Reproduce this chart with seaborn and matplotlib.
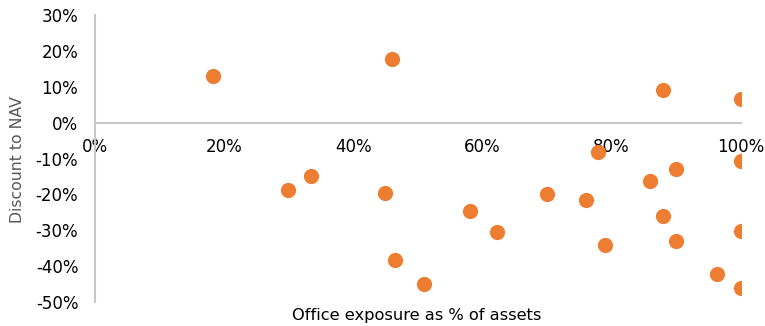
import pandas as pd
import seaborn as sns
import matplotlib.pyplot as plt
from matplotlib.ticker import FuncFormatter

# office exposure (% of assets) vs discount to NAV (%)
office_exposure = [18.3, 46.0, 88.0, 100.0, 29.9, 33.4, 44.9, 58.1, 62.3, 46.4, 51.0,
                   78.0, 100.0, 90.0, 86.0, 70.0, 76.1, 88.0, 100.0, 79.0, 90.0, 96.4, 100.0]
discount_nav = [12.9, 17.8, 9.1, 6.6, -18.9, -15.0, -19.6, -24.7, -30.5, -38.4, -45.1,
                -8.2, -10.8, -12.9, -16.2, -19.9, -21.7, -25.9, -30.1, -34.1, -33.1, -42.1, -46.2]
x_ticks = [0, 20, 40, 60, 80, 100]
y_ticks = [30, 20, 10, 0, -10, -20, -30, -40, -50]

df = pd.DataFrame({'exposure': office_exposure, 'discount': discount_nav})

sns.set_style('white')
plt.rcParams['font.family'] = ['DejaVu Sans']

fig = plt.figure(figsize=(7.65, 3.26), dpi=100)
ax = fig.add_axes([95 / 765, 1 - 302 / 326, 645.5 / 765, 287 / 326])

sns.scatterplot(data=df, x='exposure', y='discount', ax=ax, color='#ED7D31',
                s=120, linewidth=0, zorder=3)

ax.set_xlim(0, 100)
ax.set_ylim(-50, 30)
ax.set_xticks(x_ticks)
ax.set_yticks(y_ticks)
pct = FuncFormatter(lambda v, p: f'{v:.0f}%')
ax.xaxis.set_major_formatter(pct)
ax.yaxis.set_major_formatter(pct)
ax.tick_params(length=0, labelsize=12, colors='#000000')
ax.tick_params(axis='x', pad=11)
ax.tick_params(axis='y', pad=12)

for side in ['top', 'right']:
    ax.spines[side].set_visible(False)
ax.spines['bottom'].set_position(('data', 0))
for side in ['left', 'bottom']:
    ax.spines[side].set_color('#C8C8C8')
    ax.spines[side].set_linewidth(1.5)

ax.set_xlabel('Office exposure as % of assets', fontsize=11.7, color='#000000')
ax.xaxis.set_label_coords(0.499, -0.02)
ax.set_ylabel('Discount to NAV', fontsize=11.3, color='#595959')
ax.yaxis.set_label_coords(-0.108, 0.495)

plt.savefig('out.png', dpi=100)
